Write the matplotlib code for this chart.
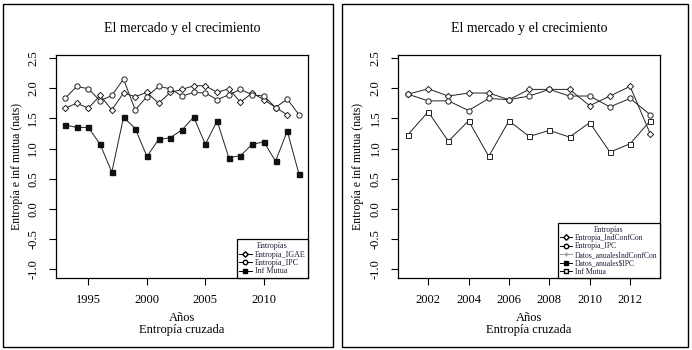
import numpy as np
import matplotlib
matplotlib.use("Agg")
import matplotlib.pyplot as plt
from matplotlib.lines import Line2D
from matplotlib.patches import Rectangle

plt.rcParams['font.family'] = ['Liberation Serif', 'DejaVu Serif']

# --- datos panel izquierdo ---
anios_izq = list(range(1993, 2014))
entropia_igae = [1.67, 1.75, 1.67, 1.88, 1.64, 1.92, 1.86, 1.93, 1.75, 1.93,
                 1.98, 2.04, 2.04, 1.93, 1.99, 1.77, 1.92, 1.81, 1.68, 1.56]
entropia_ipc = [1.83, 2.03, 1.99, 1.79, 1.88, 2.15, 1.64, 1.86, 2.03, 1.99,
                1.87, 1.93, 1.92, 1.81, 1.89, 1.98, 1.89, 1.87, 1.68, 1.82, 1.56]
inf_mutua_izq = [1.39, 1.35, 1.35, 1.07, 0.61, 1.52, 1.33, 0.87, 1.15, 1.18,
                 1.31, 1.52, 1.07, 1.46, 0.85, 0.88, 1.07, 1.11, 0.79, 1.29, 0.58]

# --- datos panel derecho ---
anios_der = list(range(2001, 2014))
entropia_indconf = [1.90, 1.99, 1.87, 1.92, 1.92, 1.81, 1.98, 1.98, 1.98,
                    1.71, 1.87, 2.03, 1.24]
entropia_ipc_der = [1.90, 1.79, 1.79, 1.63, 1.83, 1.81, 1.87, 1.98, 1.87,
                    1.87, 1.69, 1.83, 1.56]
inf_mutua_der = [1.23, 1.61, 1.12, 1.46, 0.87, 1.46, 1.20, 1.30, 1.19,
                 1.43, 0.94, 1.08, 1.46]

yticks = [-1.0, -0.5, 0.0, 0.5, 1.0, 1.5, 2.0, 2.5]
xticks_izq = [1995, 2000, 2005, 2010]
xticks_der = [2002, 2004, 2006, 2008, 2010, 2012]

titulo = "El mercado y el crecimiento"
ylab = "Entropía e inf mutua (nats)"
xlab = "Años\nEntropía cruzada"
col_leyenda = "#20203a"

fig = plt.figure(figsize=(6.92, 3.5), dpi=100)
W, H = 692.0, 350.0

# marcos de cada figura (estilo R)
for x0, x1 in [(3, 333), (342, 688)]:
    fig.patches.append(Rectangle((x0 / W, 3 / H), (x1 - x0) / W, (346 - 3) / H,
                                 transform=fig.transFigure, fill=False,
                                 lw=1.0, ec="black"))

ax1 = fig.add_axes([55.7 / W, 1 - 278.3 / H, (308.3 - 55.7) / W, (278.3 - 55) / H])
ax2 = fig.add_axes([398.3 / W, 1 - 278.3 / H, (660 - 398.3) / W, (278.3 - 55) / H])

mk = dict(color="#222222", lw=0.7, mfc="white", mec="#222222", mew=0.7)

ax1.plot(anios_izq[:len(entropia_igae)], entropia_igae, marker="D", ms=3.2, **mk)
ax1.plot(anios_izq, entropia_ipc, marker="o", ms=3.8, **mk)
ax1.plot(anios_izq, inf_mutua_izq, marker="s", ms=3.6, color="#222222", lw=0.7,
         mfc="#111111", mec="#111111")

ax2.plot(anios_der, entropia_indconf, marker="D", ms=3.2, **mk)
ax2.plot(anios_der, entropia_ipc_der, marker="o", ms=3.8, **mk)
ax2.plot(anios_der, inf_mutua_der, marker="s", ms=3.6, **mk)

for ax, xl, xt in [(ax1, (1992.2, 2013.8), xticks_izq), (ax2, (2000.52, 2013.48), xticks_der)]:
    ax.set_xlim(*xl)
    ax.set_ylim(-1.15, 2.55)
    ax.set_xticks(xt)
    ax.set_xticklabels([str(t) for t in xt], fontsize=9)
    ax.set_yticks(yticks)
    ax.set_yticklabels(["%.1f" % v for v in yticks], fontsize=9,
                       rotation=90, va="center")
    ax.tick_params(direction="out", length=5, width=0.8, color="black")
    ax.tick_params(axis="x", pad=6)
    ax.tick_params(axis="y", pad=7)
    for s in ax.spines.values():
        s.set_linewidth(0.9)
    ax.set_ylabel(ylab, fontsize=8.5)
    ax.yaxis.set_label_coords(-0.13, 0.5)
    ax.text(0.5, -0.15, xlab, transform=ax.transAxes, ha="center", va="top",
            fontsize=9, linespacing=1.0)
    ax.text(0.5, 1.118, titulo, transform=ax.transAxes, ha="center",
            va="center", fontsize=10)

# leyendas
def hacer_leyenda(ax, handles, labels, fs):
    lg = ax.legend(handles, labels, title="Entropías", loc="lower right",
                   fontsize=fs, title_fontsize=fs, frameon=True, fancybox=False,
                   framealpha=1, borderaxespad=0, handlelength=1.5,
                   handletextpad=0.4, labelspacing=0.05, borderpad=0.35,
                   labelcolor=col_leyenda)
    lg.get_frame().set_edgecolor("black")
    lg.get_frame().set_linewidth(0.9)
    lg.get_title().set_color(col_leyenda)
    return lg

h1 = [Line2D([], [], color="black", lw=0.7, marker="D", ms=2.8, mfc="white", mec="black"),
      Line2D([], [], color="black", lw=0.7, marker="o", ms=3.2, mfc="white", mec="black"),
      Line2D([], [], color="black", lw=0.7, marker="s", ms=3.2, mfc="black", mec="black")]
hacer_leyenda(ax1, h1, ["Entropia_IGAE", "Entropia_IPC", "Inf Mutua"], 5.8)

h2 = [Line2D([], [], color="black", lw=0.7, marker="D", ms=2.8, mfc="white", mec="black"),
      Line2D([], [], color="black", lw=0.7, marker="o", ms=3.2, mfc="white", mec="black"),
      Line2D([], [], color="#999999", lw=0.7, marker="+", ms=3.2, mec="#999999"),
      Line2D([], [], color="black", lw=0.7, marker="s", ms=3.2, mfc="black", mec="black"),
      Line2D([], [], color="black", lw=0.7, marker="s", ms=3.2, mfc="white", mec="black")]
hacer_leyenda(ax2, h2, ["Entropia_IndConfCon", "Entropia_IPC",
                        "Datos_anualesIndConfCon", "Datos_anuales$IPC",
                        "Inf Mutua"], 5.5)

plt.savefig("out.png", dpi=100)
